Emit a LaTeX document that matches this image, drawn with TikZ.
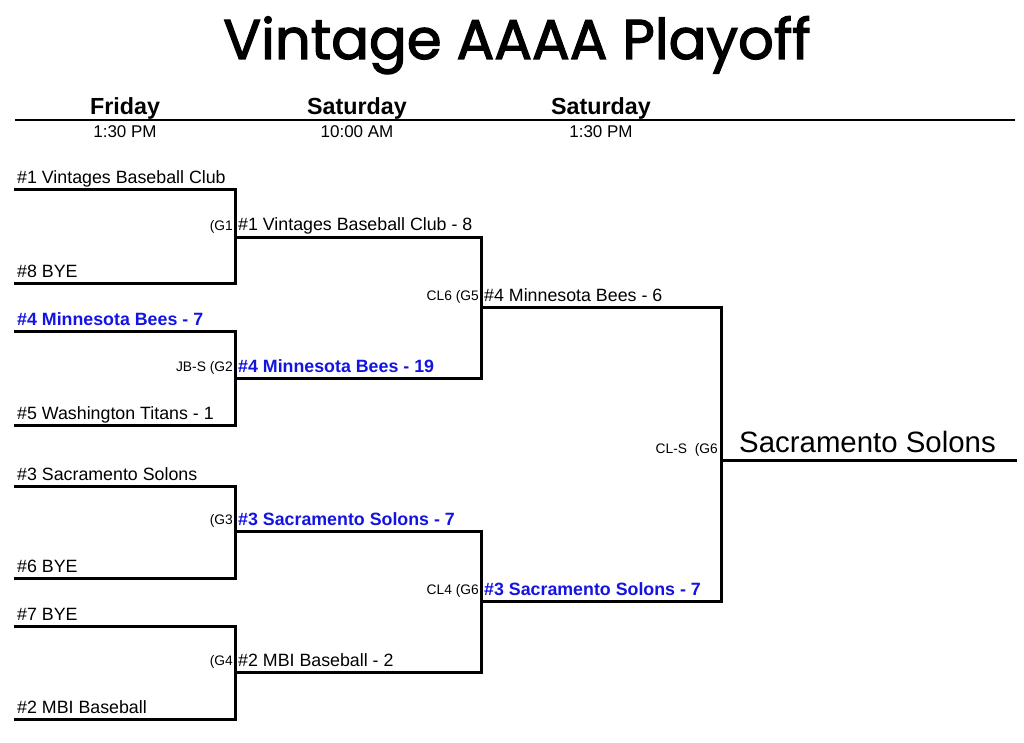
\documentclass[tikz,border=0pt]{standalone}
\usepackage{fontspec}
\setmainfont{Liberation Sans}
\newfontfamily\titlefont[FakeBold=2.2]{Poppins}
\definecolor{winblue}{RGB}{20,20,225}
\begin{document}
\begin{tikzpicture}[x=1pt,y=-1pt,
  bline/.style={line width=3pt, line join=miter, line cap=rect},
  team/.style={anchor=base west, inner sep=0pt, font=\fontsize{17.8}{18}\selectfont},
  win/.style={team, text=winblue, font=\fontsize{17.8}{18}\selectfont\bfseries},
  gtag/.style={anchor=base east, inner sep=0pt, font=\fontsize{13.8}{14}\selectfont},
  day/.style={anchor=base, inner sep=0pt, font=\fontsize{23.3}{24}\selectfont\bfseries},
  tm/.style={anchor=base, inner sep=0pt, font=\fontsize{17}{17}\selectfont}]
\useasboundingbox[fill=white] (0,0) rectangle (1024,743);

% title
\node[anchor=base, inner sep=0pt, font=\titlefont\fontsize{56}{56}\selectfont] (title) at (517,59) {Vintage AAAA Playoff};

% header
\node[day] (d1) at (125,115) {Friday};
\node[day] (d2) at (357,115) {Saturday};
\node[day] (d3) at (601,115) {Saturday};
\coordinate (hl) at (15,120);
\coordinate (hr) at (1015,120);
\draw[line width=2.5pt] (hl) -- (hr);
\node[tm] (t1) at (125,138) {1:30 PM};
\node[tm] (t2) at (357,138) {10:00 AM};
\node[tm] (t3) at (601,138) {1:30 PM};

% round 1 coordinates
\foreach \n/\y in {a/190,b/283,c/331,d/425,e/486,f/578,g/626,h/719}{
  \coordinate (\n0) at (15,\y);
  \coordinate (\n1) at (235,\y);
}
% round 2
\foreach \n/\y in {p/237,q/378,r/531,s/672}{
  \coordinate (\n0) at (235,\y);
  \coordinate (\n1) at (481,\y);
}
% round 3
\foreach \n/\y in {u/307,v/601}{
  \coordinate (\n0) at (481,\y);
  \coordinate (\n1) at (721,\y);
}
\coordinate (w0) at (721,460);
\coordinate (w1) at (1015,460);

% bracket lines
\draw[bline] (a0) -- (a1) -- (b1) -- (b0);
\draw[bline] (c0) -- (c1) -- (d1) -- (d0);
\draw[bline] (e0) -- (e1) -- (f1) -- (f0);
\draw[bline] (g0) -- (g1) -- (h1) -- (h0);
\draw[bline] (p0) -- (p1) -- (q1) -- (q0);
\draw[bline] (r0) -- (r1) -- (s1) -- (s0);
\draw[bline] (u0) -- (u1) -- (v1) -- (v0);
\draw[bline] (w0) -- (w1);

% round 1 teams
\node[team] (n1) at (17,184) {\#1 Vintages Baseball Club};
\node[team] (n8) at (17,277) {\#8 BYE};
\node[win]  (n4) at (17,325) {\#4 Minnesota Bees - 7};
\node[team] (n5) at (17,419) {\#5 Washington Titans - 1};
\node[team] (n3) at (17,480) {\#3 Sacramento Solons};
\node[team] (n6) at (17,572) {\#6 BYE};
\node[team] (n7) at (17,620) {\#7 BYE};
\node[team] (n2) at (17,713) {\#2 MBI Baseball};

% round 2
\node[gtag] (g1) at (233,230) {(G1};
\node[team] (r21) at (238,231) {\#1 Vintages Baseball Club - 8};
\node[gtag] (g2) at (233,371) {JB-S (G2};
\node[win]  (r22) at (238,372) {\#4 Minnesota Bees - 19};
\node[gtag] (g3) at (233,524) {(G3};
\node[win]  (r23) at (238,525) {\#3 Sacramento Solons - 7};
\node[gtag] (g4) at (233,665) {(G4};
\node[team] (r24) at (238,666) {\#2 MBI Baseball - 2};

% round 3
\node[gtag] (g5) at (479,300) {CL6 (G5};
\node[team] (r31) at (484,301) {\#4 Minnesota Bees - 6};
\node[gtag] (g6) at (479,594) {CL4 (G6};
\node[win]  (r32) at (484,595) {\#3 Sacramento Solons - 7};

% final
\node[gtag] (g7) at (718,453) {CL-S\ \ (G6};
\node[anchor=base west, inner sep=0pt, font=\fontsize{29.4}{30}\selectfont] (champ) at (739,452) {Sacramento Solons};
\end{tikzpicture}
\end{document}
